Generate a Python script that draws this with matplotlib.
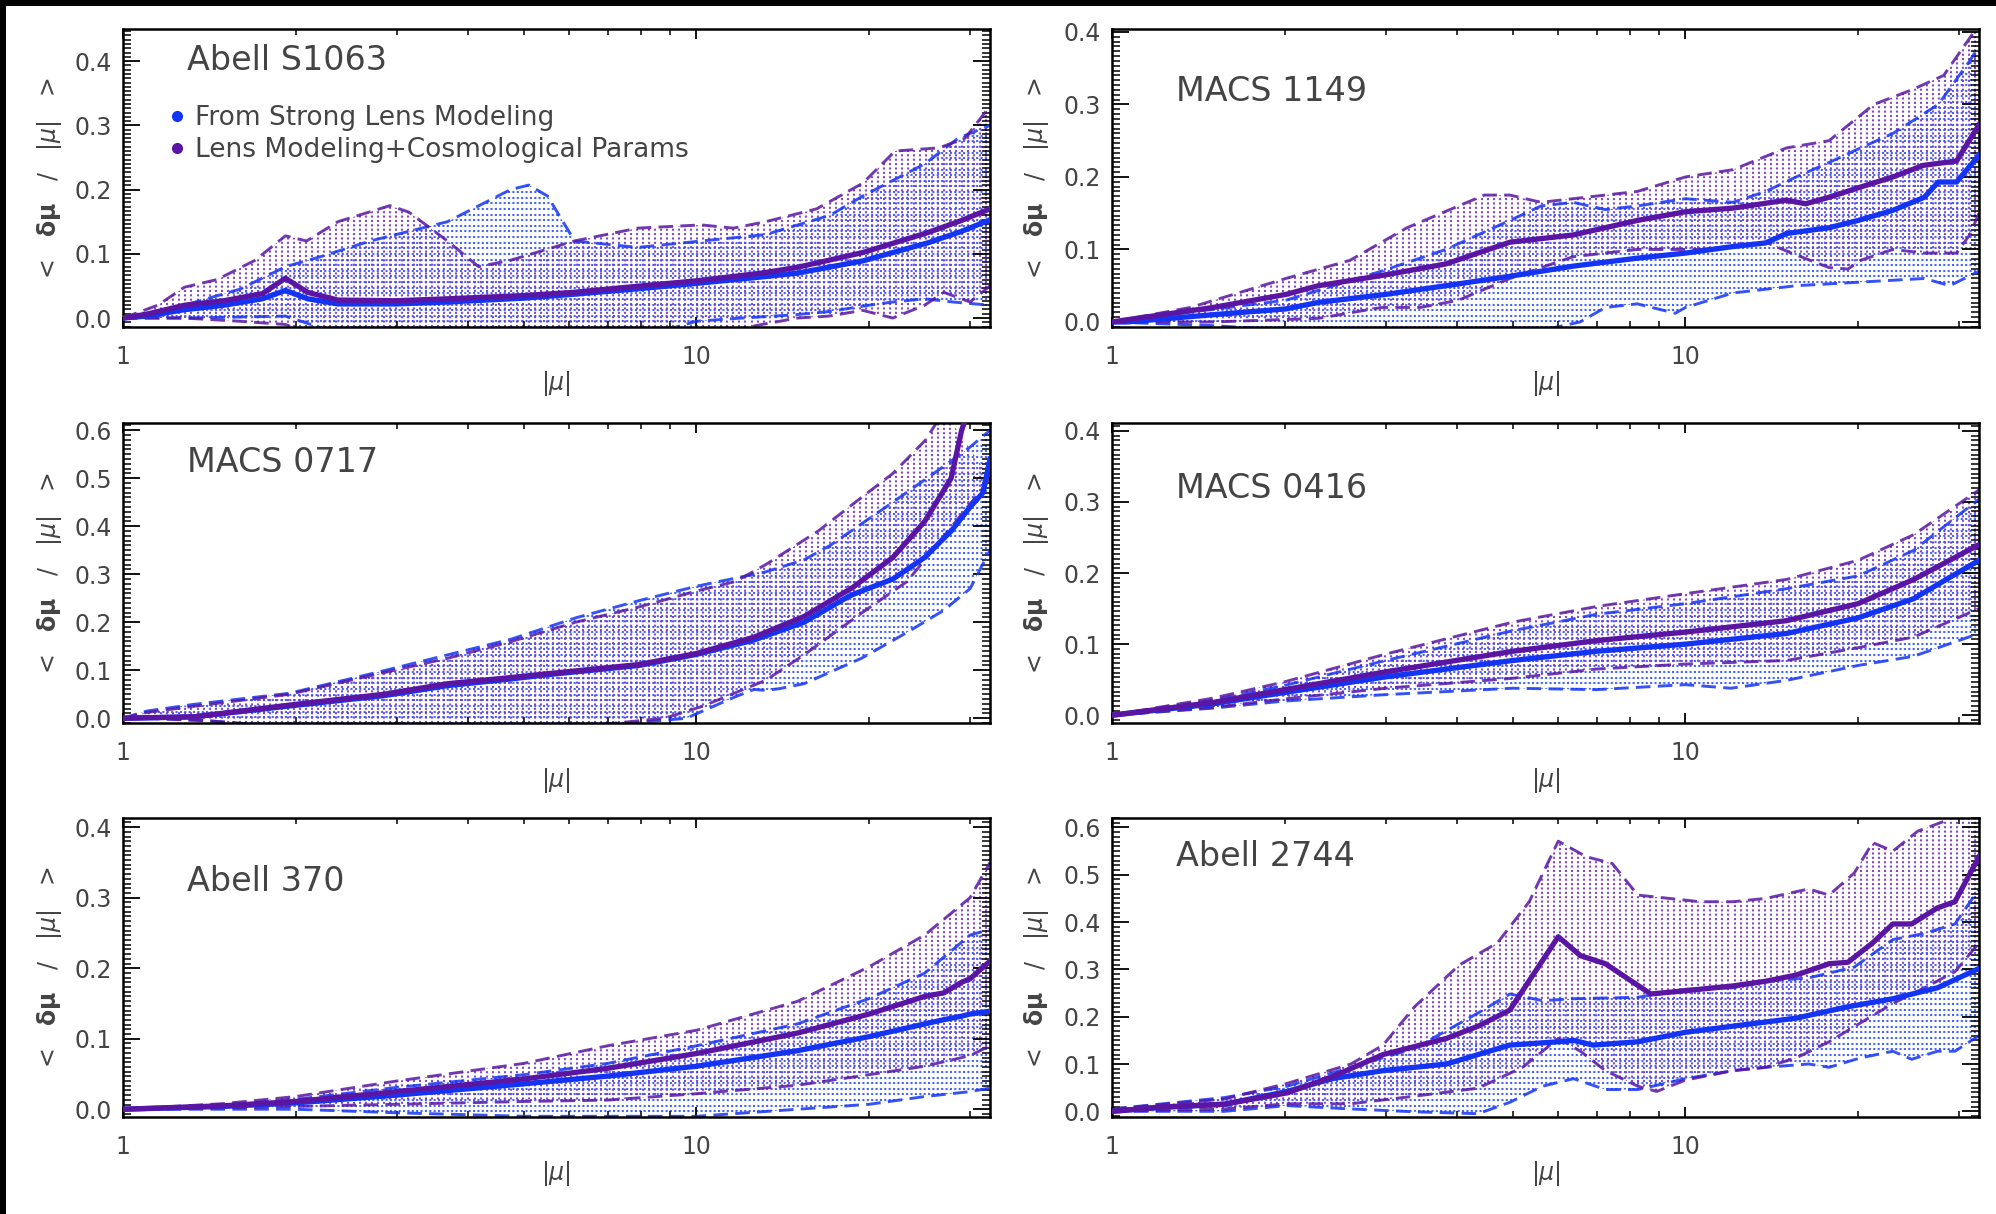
import numpy as np
import matplotlib
matplotlib.use("Agg")
import matplotlib.pyplot as plt
from matplotlib.collections import LineCollection
from matplotlib.lines import Line2D
from matplotlib.patches import Rectangle
from matplotlib.ticker import AutoMinorLocator, MultipleLocator, LogLocator, NullFormatter, FormatStrFormatter

BLUE = '#1434f5'
PURPLE = '#5a16a2'
BLUE_DOT = '#2f52ff'
PURPLE_DOT = '#7535c4'
TEXT = '#444444'
XMIN, XMAX = 1.0, 32.5

# each curve: (|mu| values, <dmu/|mu|> values)
# ---- Abell S1063
S1063_BLUE_MID = ([1.0, 1.1, 1.28, 1.5, 1.75, 1.92, 2.1, 2.37, 3.0, 3.68, 5.0, 6.1, 8.0, 10.0, 13.0, 15.0, 19.5, 25.3, 29.0, 32.5],
                  [0.0, 0.003, 0.013, 0.02, 0.03, 0.043, 0.03, 0.022, 0.022, 0.025, 0.031, 0.037, 0.046, 0.054, 0.064, 0.07, 0.089, 0.117, 0.135, 0.153])
S1063_PURPLE_MID = ([1.0, 1.1, 1.28, 1.5, 1.75, 1.92, 2.1, 2.37, 3.0, 3.68, 5.0, 6.1, 8.0, 10.0, 13.0, 15.0, 19.5, 25.3, 29.0, 32.5],
                    [0.0, 0.006, 0.02, 0.027, 0.038, 0.062, 0.04, 0.028, 0.027, 0.03, 0.035, 0.04, 0.05, 0.058, 0.07, 0.079, 0.102, 0.133, 0.152, 0.17])
S1063_PURPLE_HI = ([1.0, 1.15, 1.28, 1.46, 1.7, 1.92, 2.09, 2.37, 2.92, 3.15, 3.68, 4.17, 4.74, 6.13, 7.9, 10.2, 11.6, 13.2, 16.2, 19.5, 22.2, 26.5, 29.4, 32.5],
                   [0.0, 0.02, 0.048, 0.06, 0.09, 0.128, 0.12, 0.15, 0.175, 0.165, 0.12, 0.08, 0.09, 0.12, 0.14, 0.145, 0.14, 0.15, 0.17, 0.21, 0.26, 0.265, 0.28, 0.33])
S1063_PURPLE_LO = ([1.0, 1.28, 1.6, 1.92, 2.2, 3.0, 6.0, 10.0, 13.0, 15.0, 17.0, 19.5, 22.0, 25.0, 27.0, 30.0, 32.5],
                   [0.0, 0.0, -0.005, -0.01, -0.03, -0.04, -0.04, -0.03, -0.01, 0.0, 0.003, 0.012, 0.0, 0.02, 0.04, 0.025, 0.05])
S1063_BLUE_HI = ([1.0, 1.28, 1.6, 1.92, 2.2, 2.7, 3.68, 4.74, 5.1, 5.5, 6.13, 7.9, 10.2, 13.2, 17.1, 19.5, 25.0, 28.6, 32.5],
                 [0.0, 0.02, 0.045, 0.08, 0.095, 0.12, 0.15, 0.2, 0.207, 0.19, 0.12, 0.11, 0.12, 0.13, 0.16, 0.19, 0.24, 0.28, 0.3])
S1063_BLUE_LO = ([1.0, 1.28, 1.92, 2.3, 4.0, 8.0, 10.0, 12.0, 14.8, 17.0, 20.0, 22.0, 25.0, 28.0, 32.5],
                 [0.0, 0.0, 0.003, -0.02, -0.04, -0.03, -0.005, 0.0, 0.005, 0.01, 0.02, 0.025, 0.03, 0.025, 0.02])

# ---- MACS 1149
M1149_PURPLE_MID = ([1.0, 1.06, 1.5, 2.01, 2.29, 3.0, 3.82, 4.94, 6.37, 8.24, 10.0, 12.1, 15.0, 16.2, 17.8, 20.0, 23.0, 26.0, 29.7, 32.5],
                    [0.0, 0.003, 0.02, 0.038, 0.05, 0.065, 0.08, 0.11, 0.12, 0.14, 0.152, 0.157, 0.168, 0.163, 0.172, 0.185, 0.2, 0.216, 0.222, 0.272])
M1149_BLUE_MID = ([1.0, 1.06, 1.5, 2.01, 2.29, 3.0, 3.82, 4.94, 6.37, 8.24, 10.0, 12.1, 13.8, 15.0, 17.8, 20.0, 23.0, 26.1, 27.6, 29.7, 32.5],
                  [0.0, 0.0, 0.01, 0.018, 0.027, 0.038, 0.05, 0.063, 0.077, 0.088, 0.095, 0.104, 0.109, 0.122, 0.13, 0.14, 0.154, 0.172, 0.193, 0.193, 0.23])
M1149_PURPLE_HI = ([1.0, 1.37, 2.01, 2.6, 3.27, 4.46, 4.94, 5.6, 6.37, 7.25, 8.24, 10.0, 12.1, 15.0, 17.8, 21.3, 24.8, 28.2, 32.5],
                   [0.0, 0.02, 0.06, 0.085, 0.13, 0.175, 0.175, 0.165, 0.17, 0.175, 0.18, 0.2, 0.21, 0.24, 0.25, 0.3, 0.32, 0.34, 0.41])
M1149_PURPLE_LO = ([1.0, 1.5, 2.29, 2.95, 3.45, 4.02, 4.94, 6.37, 8.24, 10.7, 13.8, 15.3, 17.8, 19.2, 20.2, 23.0, 26.1, 29.7, 31.3, 32.5],
                   [0.0, 0.0, 0.005, 0.02, 0.02, 0.03, 0.06, 0.09, 0.1, 0.1, 0.11, 0.095, 0.075, 0.073, 0.085, 0.1, 0.095, 0.095, 0.12, 0.15])
M1149_BLUE_HI = ([1.0, 2.01, 2.95, 3.82, 4.94, 5.6, 6.37, 7.25, 8.24, 10.0, 12.1, 13.8, 15.6, 17.8, 20.2, 23.0, 27.6, 31.3, 32.5],
                 [0.0, 0.03, 0.07, 0.1, 0.14, 0.16, 0.165, 0.155, 0.16, 0.17, 0.165, 0.18, 0.2, 0.22, 0.24, 0.26, 0.3, 0.36, 0.38])
M1149_BLUE_LO = ([1.0, 1.5, 3.0, 5.0, 6.55, 7.25, 8.24, 9.6, 10.0, 12.1, 15.6, 20.2, 26.1, 28.9, 32.5],
                 [0.0, -0.005, -0.02, -0.02, 0.0, 0.02, 0.025, 0.012, 0.02, 0.04, 0.05, 0.055, 0.06, 0.05, 0.07])

# ---- MACS 0717
M0717_PURPLE_MID = ([1.0, 1.33, 2.0, 2.85, 3.68, 4.76, 5.42, 7.94, 10.0, 12.6, 15.4, 18.7, 22.0, 25.0, 27.8, 29.0, 30.0],
                    [0.0, 0.003, 0.029, 0.05, 0.072, 0.085, 0.092, 0.112, 0.135, 0.169, 0.212, 0.272, 0.335, 0.41, 0.5, 0.6, 0.65])
M0717_BLUE_MID = ([1.0, 1.33, 2.0, 2.85, 3.68, 4.76, 5.42, 7.94, 10.0, 12.6, 15.4, 18.5, 19.4, 22.0, 25.0, 27.8, 30.0, 31.6, 32.5],
                  [0.0, 0.003, 0.027, 0.047, 0.068, 0.082, 0.09, 0.11, 0.133, 0.163, 0.2, 0.255, 0.265, 0.29, 0.335, 0.39, 0.44, 0.47, 0.54])
M0717_PURPLE_HI = ([1.0, 1.1, 1.33, 1.95, 2.85, 3.68, 4.76, 6.15, 7.94, 10.0, 11.7, 13.2, 16.3, 19.4, 22.0, 25.1, 27.0],
                   [0.0, 0.012, 0.025, 0.05, 0.095, 0.125, 0.16, 0.2, 0.232, 0.265, 0.285, 0.32, 0.39, 0.46, 0.51, 0.58, 0.64])
M0717_PURPLE_LO = ([1.0, 1.1, 1.4, 2.0, 4.0, 8.8, 10.25, 13.2, 15.4, 19.4, 23.3, 27.0, 31.6, 32.5],
                   [0.0, 0.0, -0.005, -0.02, -0.04, 0.0, 0.025, 0.079, 0.132, 0.219, 0.285, 0.379, 0.48, 0.5])
M0717_BLUE_HI = ([1.0, 1.1, 1.33, 1.95, 2.85, 3.68, 4.76, 6.15, 7.94, 10.0, 11.7, 13.2, 15.4, 17.1, 22.0, 27.0, 30.0, 32.5],
                 [0.0, 0.015, 0.029, 0.052, 0.099, 0.132, 0.165, 0.209, 0.245, 0.275, 0.292, 0.305, 0.33, 0.36, 0.45, 0.525, 0.565, 0.6])
M0717_BLUE_LO = ([1.0, 1.1, 1.4, 2.0, 4.0, 9.6, 11.7, 12.6, 13.2, 14.0, 15.4, 19.4, 23.3, 27.0, 30.0, 32.5],
                 [0.0, 0.0, -0.005, -0.02, -0.04, 0.0, 0.045, 0.06, 0.058, 0.062, 0.072, 0.125, 0.179, 0.225, 0.27, 0.35])

# ---- MACS 0416
M0416_MU = [1.0, 1.5, 2.0, 3.0, 5.0, 7.0, 10.0, 15.0, 20.0, 25.0, 32.5]
M0416_PURPLE_MID = (M0416_MU, [0.0, 0.018, 0.036, 0.061, 0.09, 0.105, 0.117, 0.133, 0.157, 0.191, 0.24])
M0416_BLUE_MID = (M0416_MU, [0.0, 0.016, 0.032, 0.054, 0.077, 0.09, 0.1, 0.115, 0.137, 0.164, 0.218])
M0416_PURPLE_HI = (M0416_MU, [0.0, 0.024, 0.047, 0.086, 0.131, 0.153, 0.171, 0.191, 0.218, 0.254, 0.317])
M0416_BLUE_HI = (M0416_MU, [0.0, 0.021, 0.042, 0.077, 0.119, 0.142, 0.157, 0.178, 0.196, 0.232, 0.304])
M0416_PURPLE_LO = (M0416_MU, [0.0, 0.011, 0.023, 0.038, 0.052, 0.065, 0.072, 0.077, 0.095, 0.11, 0.15])
M0416_BLUE_LO = ([1.0, 1.5, 2.0, 3.0, 5.0, 7.0, 10.0, 12.0, 15.0, 20.0, 25.0, 32.5],
                 [0.0, 0.01, 0.02, 0.029, 0.038, 0.036, 0.043, 0.038, 0.049, 0.07, 0.083, 0.115])

# ---- Abell 370
A370_MID_MU = [1.0, 1.5, 2.0, 3.0, 5.0, 7.0, 10.0, 15.0, 20.0, 25.0, 27.0, 29.0, 30.0, 32.5]
A370_BAND_MU = [1.0, 1.5, 2.0, 3.0, 5.0, 7.0, 10.0, 15.0, 20.0, 25.0, 30.0, 32.5]
A370_PURPLE_MID = (A370_MID_MU, [0.0, 0.005, 0.011, 0.025, 0.043, 0.058, 0.079, 0.108, 0.135, 0.16, 0.165, 0.18, 0.185, 0.21])
A370_BLUE_MID = (A370_MID_MU, [0.0, 0.004, 0.009, 0.02, 0.036, 0.047, 0.061, 0.083, 0.103, 0.121, 0.127, 0.132, 0.135, 0.139])
A370_PURPLE_HI = (A370_BAND_MU, [0.0, 0.008, 0.018, 0.04, 0.065, 0.09, 0.112, 0.153, 0.202, 0.247, 0.3, 0.35])
A370_BLUE_HI = (A370_BAND_MU, [0.0, 0.006, 0.014, 0.031, 0.049, 0.065, 0.09, 0.121, 0.157, 0.193, 0.247, 0.255])
A370_PURPLE_LO = (A370_BAND_MU, [0.0, 0.002, 0.004, 0.007, 0.011, 0.013, 0.022, 0.034, 0.049, 0.061, 0.076, 0.09])
A370_BLUE_LO = (A370_BAND_MU, [0.0, 0.0, 0.0, -0.005, -0.01, -0.01, -0.01, 0.0, 0.007, 0.018, 0.025, 0.03])

# ---- Abell 2744
A2744_PURPLE_MID = ([1.0, 1.21, 1.57, 2.02, 2.42, 2.97, 3.83, 4.35, 4.94, 6.0, 6.56, 7.25, 8.7, 10.0, 12.1, 13.8, 15.6, 17.8, 19.2, 21.2, 23.0, 24.8, 27.5, 29.5, 32.5],
                    [0.0, 0.009, 0.015, 0.039, 0.073, 0.12, 0.154, 0.18, 0.214, 0.369, 0.329, 0.312, 0.248, 0.255, 0.265, 0.275, 0.288, 0.312, 0.315, 0.356, 0.396, 0.396, 0.43, 0.443, 0.538])
A2744_BLUE_MID = ([1.0, 1.21, 1.57, 2.02, 2.42, 2.97, 3.83, 4.94, 6.0, 6.38, 6.9, 8.26, 10.0, 12.1, 15.6, 19.2, 23.0, 27.5, 32.5],
                  [0.0, 0.008, 0.015, 0.042, 0.069, 0.086, 0.1, 0.14, 0.147, 0.15, 0.14, 0.147, 0.167, 0.18, 0.197, 0.221, 0.238, 0.261, 0.302])
A2744_PURPLE_HI = ([1.0, 1.57, 2.02, 2.61, 2.97, 3.37, 4.03, 4.7, 5.34, 6.0, 6.72, 7.45, 8.26, 9.37, 10.6, 12.1, 13.8, 16.4, 17.8, 19.7, 21.2, 23.0, 25.4, 28.1, 32.5],
                   [0.005, 0.026, 0.059, 0.1, 0.14, 0.221, 0.309, 0.356, 0.443, 0.571, 0.538, 0.524, 0.457, 0.45, 0.443, 0.443, 0.45, 0.47, 0.457, 0.504, 0.568, 0.55, 0.592, 0.612, 0.65])
A2744_PURPLE_LO = ([1.0, 1.57, 2.02, 2.61, 3.37, 4.35, 5.2, 6.0, 6.56, 7.25, 8.26, 8.91, 10.0, 12.1, 13.8, 15.6, 17.8, 20.2, 23.0, 26.1, 29.5, 32.5],
                   [0.0, 0.005, 0.016, 0.016, 0.032, 0.049, 0.093, 0.154, 0.127, 0.086, 0.053, 0.042, 0.066, 0.086, 0.093, 0.113, 0.147, 0.187, 0.228, 0.261, 0.295, 0.356])
A2744_BLUE_HI = ([1.0, 1.57, 2.02, 2.61, 3.37, 4.35, 4.94, 5.63, 6.38, 8.26, 10.0, 12.1, 13.8, 16.4, 19.7, 23.0, 26.1, 29.5, 32.5],
                 [0.005, 0.029, 0.053, 0.093, 0.133, 0.208, 0.248, 0.234, 0.238, 0.241, 0.258, 0.261, 0.275, 0.282, 0.305, 0.363, 0.376, 0.396, 0.47])
A2744_BLUE_LO = ([1.0, 1.57, 2.02, 2.61, 3.37, 4.35, 4.94, 5.63, 6.38, 7.25, 8.26, 10.0, 12.1, 13.8, 16.4, 17.8, 20.2, 23.0, 24.8, 27.5, 29.5, 32.5],
                 [0.0, 0.0, 0.012, 0.005, -0.001, -0.005, 0.019, 0.053, 0.069, 0.046, 0.046, 0.069, 0.086, 0.093, 0.1, 0.093, 0.113, 0.127, 0.11, 0.127, 0.127, 0.16])

CLUSTERS = ["Abell S1063", "MACS 1149", "MACS 0717", "MACS 0416", "Abell 370", "Abell 2744"]
YLIMS = [(-0.014, 0.45), (-0.007, 0.404), (-0.01, 0.615), (-0.011, 0.411), (-0.011, 0.413), (-0.012, 0.62)]
CURVES = [
    (S1063_BLUE_MID, S1063_BLUE_LO, S1063_BLUE_HI, S1063_PURPLE_MID, S1063_PURPLE_LO, S1063_PURPLE_HI),
    (M1149_BLUE_MID, M1149_BLUE_LO, M1149_BLUE_HI, M1149_PURPLE_MID, M1149_PURPLE_LO, M1149_PURPLE_HI),
    (M0717_BLUE_MID, M0717_BLUE_LO, M0717_BLUE_HI, M0717_PURPLE_MID, M0717_PURPLE_LO, M0717_PURPLE_HI),
    (M0416_BLUE_MID, M0416_BLUE_LO, M0416_BLUE_HI, M0416_PURPLE_MID, M0416_PURPLE_LO, M0416_PURPLE_HI),
    (A370_BLUE_MID, A370_BLUE_LO, A370_BLUE_HI, A370_PURPLE_MID, A370_PURPLE_LO, A370_PURPLE_HI),
    (A2744_BLUE_MID, A2744_BLUE_LO, A2744_BLUE_HI, A2744_PURPLE_MID, A2744_PURPLE_LO, A2744_PURPLE_HI),
]
TITLE_Y = [0.896, 0.79, 0.87, 0.783, 0.786, 0.87]


def dotted_fill(ax, lo, hi, color, vertical, ylim):
    xs = np.r_[hi[0], lo[0][::-1]]
    ys = np.r_[hi[1], lo[1][::-1]]
    poly, = ax.fill(xs, ys, facecolor='none', edgecolor='none')
    if vertical:
        pos = 10 ** np.arange(0.004, np.log10(XMAX), 0.0105)
        segs = [[(p, ylim[0]), (p, ylim[1])] for p in pos]
    else:
        pos = np.linspace(ylim[0], ylim[1], 54)
        segs = [[(XMIN, p), (XMAX, p)] for p in pos]
    lc = LineCollection(segs, colors=color, linewidths=1.5,
                        linestyles=[(0, (1.0, 1.1))], zorder=1, alpha=0.9)
    ax.add_collection(lc, autolim=False)
    lc.set_clip_path(poly)


fig = plt.figure(figsize=(19.96, 12.14), dpi=100)
fig.patch.set_facecolor('black')
fig.add_artist(Rectangle((6 / 1996, 0), 1, 1 - 6 / 1214, transform=fig.transFigure,
                         facecolor='white', edgecolor='none', zorder=-10))

lefts = [0.0616, 0.5571]
bottoms = [0.7306, 0.4044, 0.0799]
heights = [0.2455, 0.2471, 0.2463]
width = 0.4344

for i, name in enumerate(CLUSTERS):
    row, col = divmod(i, 2)
    ax = fig.add_axes([lefts[col], bottoms[row], width, heights[row]])
    ax.set_xscale('log')
    ylim = YLIMS[i]
    b_mid, b_lo, b_hi, p_mid, p_lo, p_hi = CURVES[i]

    dotted_fill(ax, b_lo, b_hi, BLUE_DOT, False, ylim)
    dotted_fill(ax, p_lo, p_hi, PURPLE_DOT, True, ylim)
    for c, col_ in [(b_lo, BLUE), (b_hi, BLUE), (p_lo, PURPLE), (p_hi, PURPLE)]:
        ax.plot(c[0], c[1], color=col_, lw=2.1, ls=(0, (5, 2.5)), alpha=0.85, zorder=2)
    ax.plot(b_mid[0], b_mid[1], color=BLUE, lw=3.8, zorder=3, solid_joinstyle='round')
    ax.plot(p_mid[0], p_mid[1], color=PURPLE, lw=3.8, zorder=4, solid_joinstyle='round')

    ax.set_xlim(XMIN, XMAX)
    ax.set_ylim(*ylim)
    ax.set_xticks([1, 10], ['1', '10'])
    ax.xaxis.set_minor_locator(LogLocator(base=10, subs=np.arange(2, 10)))
    ax.xaxis.set_minor_formatter(NullFormatter())
    ax.yaxis.set_major_locator(MultipleLocator(0.1))
    ax.yaxis.set_major_formatter(FormatStrFormatter('%.1f'))
    ax.yaxis.set_minor_locator(AutoMinorLocator(10 if ylim[1] > 0.5 else 15))

    ax.tick_params(which='both', direction='in', top=True, right=True, colors='black',
                   labelcolor=TEXT, labelsize=17)
    ax.tick_params(axis='y', which='major', length=12, width=1.3, pad=8)
    ax.tick_params(axis='y', which='minor', length=6, width=1.1)
    ax.tick_params(axis='x', which='major', length=7, width=1.3, pad=13)
    ax.tick_params(axis='x', which='minor', length=4, width=1.1)
    for sp in ax.spines.values():
        sp.set_linewidth(1.8)

    ax.set_xlabel(r'$|\mu|$', fontsize=17, color=TEXT)
    ax.xaxis.set_label_coords(0.5, -0.142)
    ax.set_ylabel(r'<   $\mathbf{\delta\mu}$   /   $|\mu|$   >', fontsize=17, color=TEXT)
    ax.yaxis.set_label_coords(-0.068 if col == 0 else -0.07, 0.5)

    ax.text(0.074, TITLE_Y[i], name, transform=ax.transAxes, fontsize=24,
            color=TEXT, va='center', ha='left')

    if i == 0:
        handles = [Line2D([], [], ls='none', marker='o', color=BLUE, markersize=7),
                   Line2D([], [], ls='none', marker='o', color=PURPLE, markersize=7)]
        ax.legend(handles, ['From Strong Lens Modeling', 'Lens Modeling+Cosmological Params'],
                  loc='upper left', bbox_to_anchor=(0.04, 0.79), frameon=False,
                  fontsize=19, handlelength=0.5, handletextpad=0.4, labelspacing=0.25,
                  borderpad=0, labelcolor=TEXT)

fig.savefig('out.png', dpi=100)
